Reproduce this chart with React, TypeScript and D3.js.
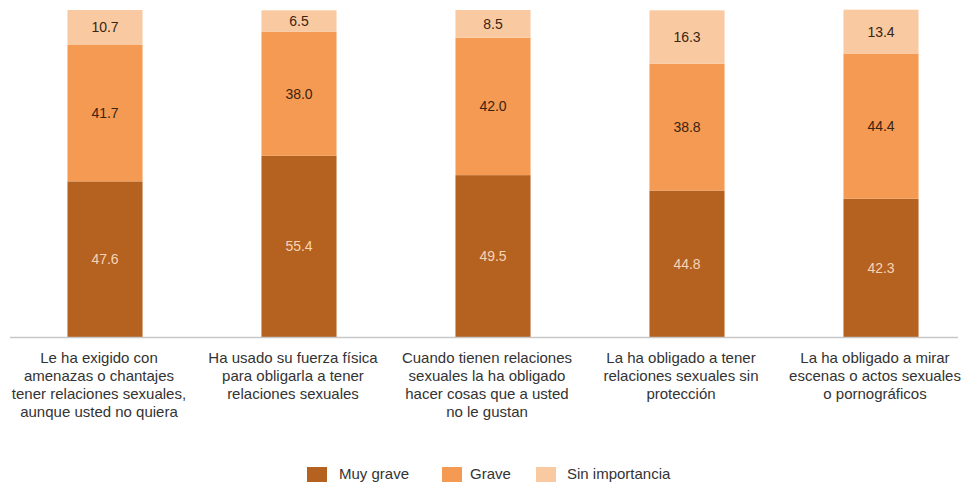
import * as d3 from 'd3';

const categories = [
  'Le ha exigido con amenazas o chantajes tener relaciones sexuales, aunque usted no quiera',
  'Ha usado su fuerza física para obligarla a tener relaciones sexuales',
  'Cuando tienen relaciones sexuales la ha obligado hacer cosas que a usted no le gustan',
  'La ha obligado a tener relaciones sexuales sin protección',
  'La ha obligado a mirar escenas o actos sexuales o pornográficos',
];

const categoryLines = [
  ['Le ha exigido con', 'amenazas o chantajes', 'tener relaciones sexuales,', 'aunque usted no quiera'],
  ['Ha usado su fuerza física', 'para obligarla a tener', 'relaciones sexuales'],
  ['Cuando tienen relaciones', 'sexuales la ha obligado', 'hacer cosas que a usted', 'no le gustan'],
  ['La ha obligado a tener', 'relaciones sexuales sin', 'protección'],
  ['La ha obligado a mirar', 'escenas o actos sexuales', 'o pornográficos'],
];

const seriesNames = ['Muy grave', 'Grave', 'Sin importancia'];
const muyGrave = [47.6, 55.4, 49.5, 44.8, 42.3];
const grave = [41.7, 38.0, 42.0, 38.8, 44.4];
const sinImportancia = [10.7, 6.5, 8.5, 16.3, 13.4];

const colors = ['#b5611f', '#f59a52', '#f9caa2'];
const labelColors = ['#f7d4b6', '#3a2412', '#3a2412'];

const WIDTH = 964;
const HEIGHT = 482;
const FONT = 'Liberation Sans, Arial, sans-serif';

type Row = { cat: string; [k: string]: number | string };

export default function App() {
  const rows: Row[] = categories.map((c, i) => ({
    cat: c,
    'Muy grave': muyGrave[i],
    Grave: grave[i],
    'Sin importancia': sinImportancia[i],
  }));

  const stack = d3.stack<Row>().keys(seriesNames).value((d, k) => d[k] as number);
  const series = stack(rows);

  const x = d3
    .scaleBand<string>()
    .domain(categories)
    .range([8, 978])
    .paddingInner(0.613)
    .paddingOuter(0.3065);

  const y = d3.scaleLinear().domain([0, 100]).range([337, 10]);

  // legend positions (square x, text x)
  const legendItems = [
    { sq: 307, tx: 339 },
    { sq: 442, tx: 470 },
    { sq: 536, tx: 567 },
  ];

  return (
    <div style={{ position: 'absolute', left: 0, top: 0 }}>
      <svg width={WIDTH} height={HEIGHT} style={{ display: 'block', background: '#fff' }}>
        {series.map((s, si) => (
          <g key={s.key}>
            {s.map((d, i) => {
              const x0 = x(categories[i])!;
              const y0 = y(d[1]);
              const h = y(d[0]) - y(d[1]);
              return (
                <g key={i}>
                  <rect x={x0} y={y0} width={x.bandwidth()} height={h} fill={colors[si]} />
                  <text
                    x={x0 + x.bandwidth() / 2}
                    y={y0 + h / 2}
                    textAnchor="middle"
                    dominantBaseline="central"
                    fontFamily={FONT}
                    fontSize={14}
                    fill={labelColors[si]}
                  >
                    {(d[1] - d[0]).toFixed(1)}
                  </text>
                </g>
              );
            })}
          </g>
        ))}

        <line x1={10} x2={958} y1={337.5} y2={337.5} stroke="#c8c8c8" strokeWidth={1.5} />

        {categoryLines.map((lines, i) => {
          const cx = x(categories[i])! + x.bandwidth() / 2 - 6;
          return (
            <text key={i} x={cx} y={362.5} textAnchor="middle" fontFamily={FONT} fontSize={15} fill="#333">
              {lines.map((l, j) => (
                <tspan key={j} x={cx} dy={j === 0 ? 0 : 18.3}>
                  {l}
                </tspan>
              ))}
            </text>
          );
        })}

        {seriesNames.map((n, i) => (
          <g key={n}>
            <rect x={legendItems[i].sq} y={467} width={20} height={20} fill={colors[i]} />
            <text x={legendItems[i].tx} y={478.5} fontFamily={FONT} fontSize={15} fill="#333">
              {n}
            </text>
          </g>
        ))}
      </svg>
    </div>
  );
}
